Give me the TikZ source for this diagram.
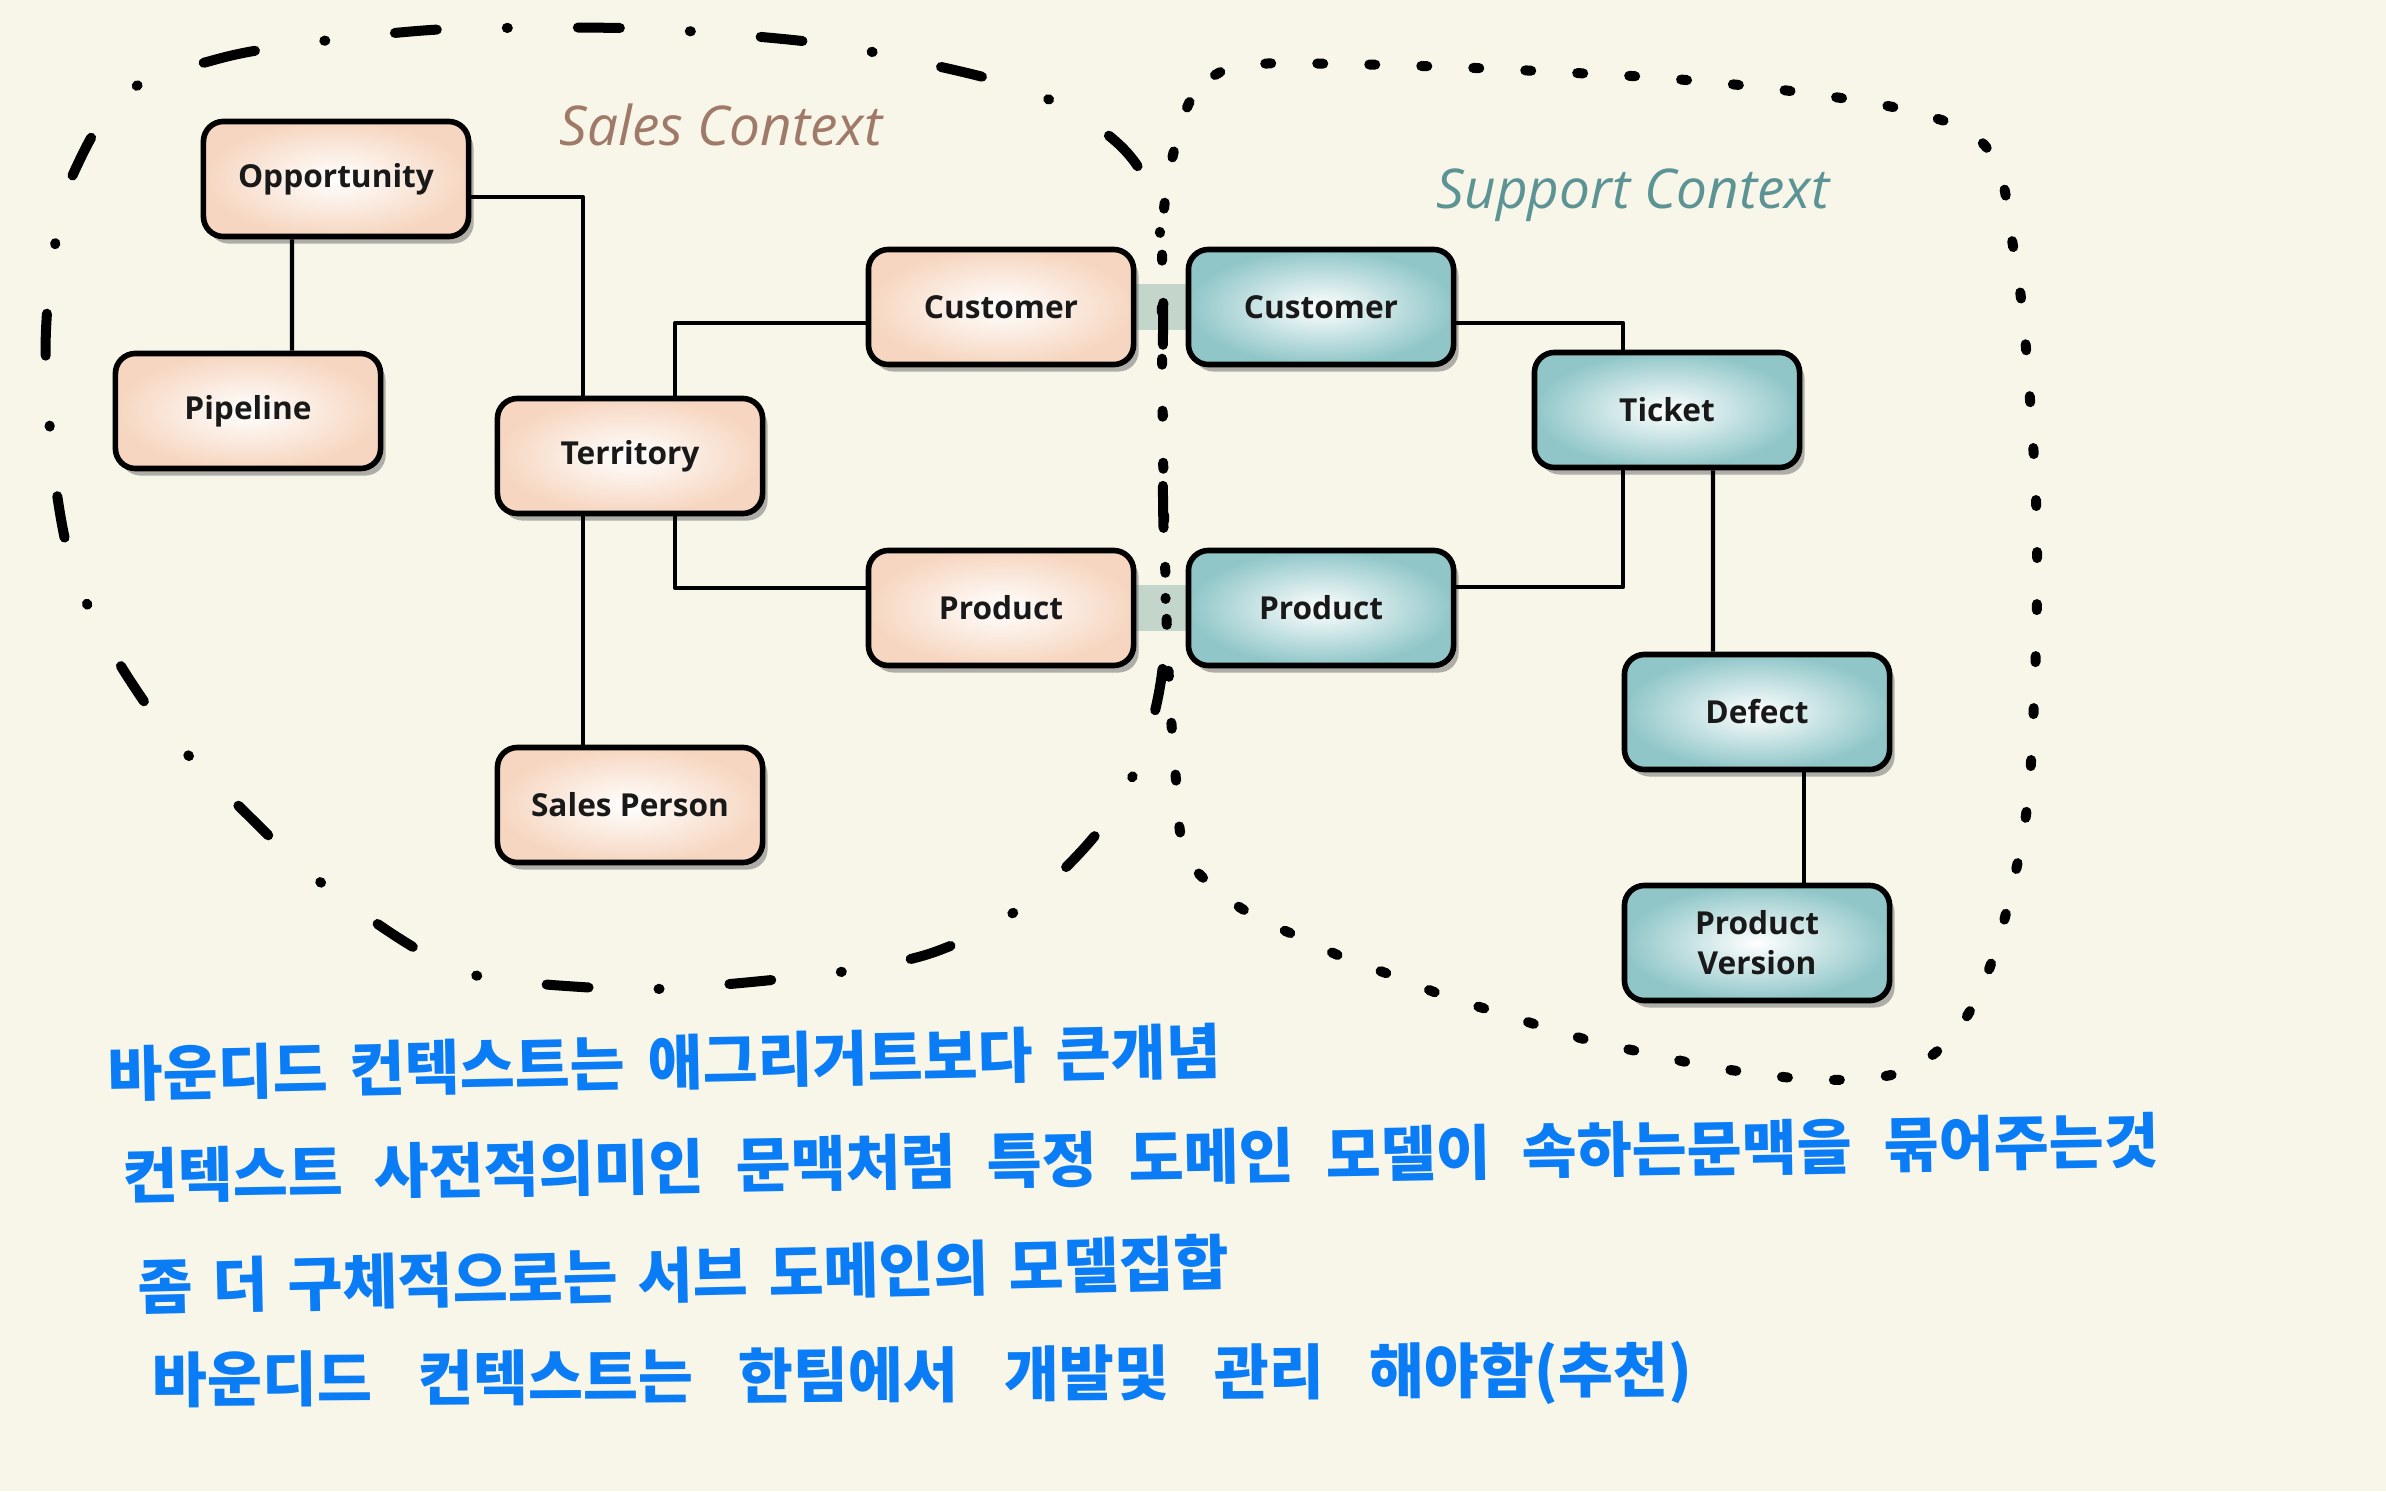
\documentclass[tikz,border=0pt]{standalone}
\usepackage{fontspec}
\setmainfont{Open Sans}
\newfontfamily\handkr{Noto Sans CJK KR}
\newcommand\notefont[1]{\handkr\bfseries\fontsize{17}{19}\selectfont\spaceskip=#1em\relax}
\usepackage{tikz}
\usetikzlibrary{shadows,backgrounds}
\definecolor{paper}{RGB}{248,246,233}
\definecolor{peach}{RGB}{246,214,192}
\definecolor{tealbox}{RGB}{144,198,200}
\definecolor{salestxt}{RGB}{160,122,104}
\definecolor{supptxt}{RGB}{92,148,150}
\definecolor{pen}{RGB}{10,124,245}
\definecolor{bandc}{RGB}{196,214,204}
\tikzset{
  box/.style={draw=black,line width=1.6pt,rounded corners=0.2cm,minimum width=2.65cm,minimum height=1.15cm,
    align=center,font=\bfseries\fontsize{9}{11.4}\selectfont,text=black!90,
    drop shadow={shadow xshift=0.05cm,shadow yshift=-0.07cm,opacity=0.5,fill=black!60}},
  sales/.style={box,shading=radial,inner color=white,outer color=peach},
  supp/.style={box,shading=radial,inner color=white,outer color=tealbox},
  link/.style={line width=1.2pt},
  band/.style={line width=0.45cm,bandc},
  salesline/.style={line width=0.1cm,line cap=round,dash pattern=on 0.42cm off 0.7cm on 0.01cm off 0.7cm},
  suppline/.style={line width=0.1cm,line cap=round,dash pattern=on 0.06cm off 0.46cm},
  ctx/.style={font=\itshape\fontsize{15.6}{18}\selectfont},
  note/.style={anchor=west,inner sep=0pt,text=pen}
}

\begin{document}
\begin{tikzpicture}[x=0.01cm,y=-0.01cm,line join=round]
\useasboundingbox (0,0) rectangle (2386,1491);
% --- sales side
\node[sales] (opp) at (336,179) {Opportunity};
\node[sales] (pipe) at (248,411) {Pipeline};
\node[sales] (terr) at (630,456) {Territory};
\node[sales] (custS) at (1001,307) {Customer};
\node[sales] (prodS) at (1001,608) {Product};
\node[sales] (sper) at (630,805) {Sales Person};
% --- support side
\node[supp] (custT) at (1321,307) {Customer};
\node[supp] (prodT) at (1321,608) {Product};
\node[supp] (tick) at (1667,410) {Ticket};
\node[supp] (defect) at (1757,712) {Defect};
\node[supp] (pver) at (1757,943) {Product\\Version};

\begin{pgfonlayer}{background}
\fill[paper] (0,0) rectangle (2386,1491);
\draw[band] (custS.east) -- (custT.west);
\draw[band] (prodS.east) -- (prodT.west);
\end{pgfonlayer}

\draw[link] ([xshift=-0.44cm]opp.south) -- ([xshift=0.44cm]pipe.north);
\draw[link] ([yshift=-0.18cm]opp.east) -| ([xshift=-0.47cm]terr.north);
\draw[link] ([xshift=0.45cm]terr.north) |- ([yshift=-0.16cm]custS.west);
\draw[link] ([xshift=0.45cm]terr.south) |- ([yshift=0.2cm]prodS.west);
\draw[link] ([xshift=-0.47cm]terr.south) -- ([xshift=-0.47cm]sper.north);
\draw[link] ([yshift=-0.16cm]custT.east) -| ([xshift=-0.44cm]tick.north);
\draw[link] ([xshift=-0.44cm]tick.south) |- ([yshift=0.21cm]prodT.east);
\draw[link] ([xshift=0.46cm]tick.south) -- ([xshift=-0.44cm]defect.north);
\draw[link] ([xshift=0.47cm]defect.south) -- ([xshift=0.47cm]pver.north);

% context borders
\draw[salesline] plot[smooth cycle,tension=0.6] coordinates {(126,93) (214,60) (300,44) (417,31) (500,28) (620,28)
  (700,32) (819,43) (900,58) (1014,86) (1090,122) (1140,170) (1161,240) (1163,350) (1163,500) (1165,640)
  (1150,730) (1120,800) (1075,858) (1010,915) (940,950) (876,966) (800,977) (677,988) (597,988) (474,975)
  (405,942) (310,874) (256,823) (176,742) (133,685) (95,620) (70,560) (55,480) (48,400) (46,330) (55,245)
  (75,170)};
\draw[suppline] plot[smooth cycle,tension=0.6] coordinates {(1186,110) (1215,75) (1260,64) (1342,64) (1451,67)
  (1556,72) (1661,78) (1766,88) (1872,103) (1935,118) (1974,135) (2000,172) (2012,240) (2022,307) (2030,400)
  (2036,500) (2037,590) (2035,675) (2030,776) (2022,840) (2007,909) (1994,955) (1976,1000) (1949,1040)
  (1908,1070) (1857,1079) (1806,1079) (1752,1073) (1701,1065) (1646,1053) (1595,1042) (1544,1027) (1496,1012)
  (1445,996) (1394,976) (1347,959) (1299,937) (1254,916) (1213,887) (1184,850) (1176,780) (1170,700)
  (1166,600) (1163,450) (1162,300) (1165,200)};

\node[ctx,text=salestxt] (salesl) at (721,125) {Sales Context};
\node[ctx,text=supptxt] (suppl) at (1633,195) {Support Context};

% handwritten notes
\node[note,rotate=1.2,font={\notefont{0.38}}] (n1) at (107,1074) {바운디드 컨텍스트는 애그리거트보다 큰개념};
\node[note,rotate=1,font={\notefont{0.53}}] (n2) at (122,1176) {컨텍스트 사전적의미인 문맥처럼 특정 도메인 모델이 속하는문맥을 묶어주는것};
\node[note,rotate=1.3,font={\notefont{0.34}}] (n3) at (137,1287) {좀 더 구체적으로는 서브 도메인의 모델집합};
\node[note,rotate=0.4,font={\notefont{0.76}}] (n4) at (152,1383) {바운디드 컨텍스트는 한팀에서 개발및 관리 해야함(추천)};
\end{tikzpicture}
\end{document}
